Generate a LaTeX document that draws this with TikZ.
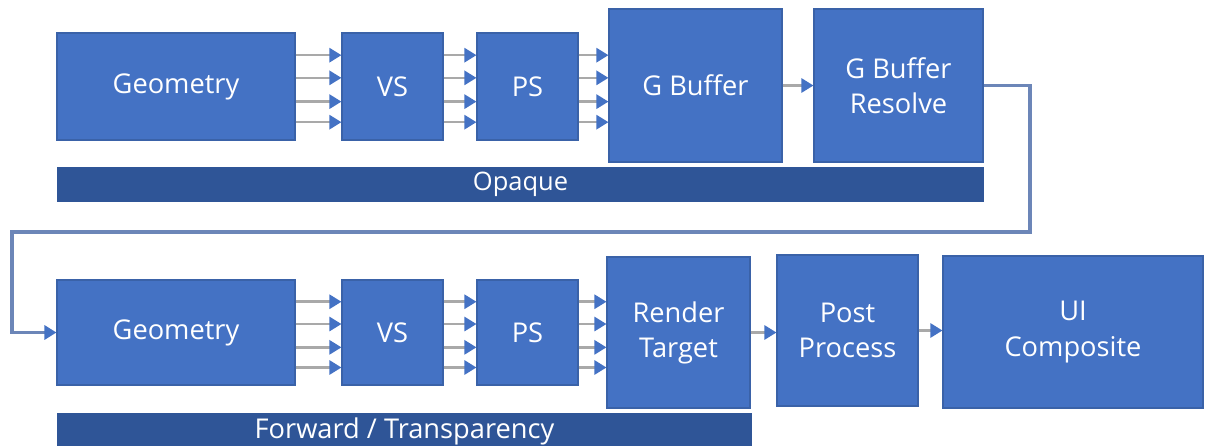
\documentclass[tikz,border=0pt]{standalone}
\usepackage{fontspec}
\setmainfont{Open Sans}
\usetikzlibrary{arrows.meta,calc}
\definecolor{boxblue}{HTML}{4472C4}
\definecolor{boxedge}{HTML}{3A62A8}
\definecolor{bardark}{HTML}{2F5597}
\definecolor{wire}{HTML}{A9A9A9}
\definecolor{loopline}{HTML}{6C86B8}
\begin{document}
\begin{tikzpicture}[
    stage/.style={draw=boxedge,line width=0.6pt,fill=boxblue,text=white,align=center,
        font=\fontsize{15.5}{20}\selectfont,inner sep=0pt},
    bar/.style={fill=bardark,text=white,font=\fontsize{14.5}{17}\selectfont,inner sep=0pt},
    feed/.style={draw=wire,line width=1.5pt,-{Triangle[length=0.24cm,width=0.28cm,color=boxblue]}},
    back/.style={draw=loopline,line width=2pt,-{Triangle[length=0.24cm,width=0.28cm,color=boxblue]}}]
            \useasboundingbox (0,0) rectangle (24.12,-8.92);
            \node[stage,minimum width=4.76cm,minimum height=2.14cm] at (3.52,-1.73) (geoa) {Geometry};
            \node[stage,minimum width=2.02cm,minimum height=2.14cm] at (7.85,-1.73) (vsa) {VS};
            \node[stage,minimum width=2.02cm,minimum height=2.14cm] at (10.55,-1.73) (psa) {PS};
            \node[stage,minimum width=3.46cm,minimum height=3.06cm] at (13.91,-1.71) (gbuf) {G Buffer};
            \node[stage,minimum width=3.38cm,minimum height=3.06cm] at (17.97,-1.71) (gres) {G Buffer\\Resolve};
            \node[bar,minimum width=18.54cm,minimum height=0.70cm] at (10.41,-3.69) (opaque) {Opaque};
            \node[stage,minimum width=4.76cm,minimum height=2.10cm] at (3.52,-6.65) (geob) {Geometry};
            \node[stage,minimum width=2.02cm,minimum height=2.10cm] at (7.85,-6.65) (vsb) {VS};
            \node[stage,minimum width=2.02cm,minimum height=2.10cm] at (10.55,-6.65) (psb) {PS};
            \node[stage,minimum width=2.86cm,minimum height=3.02cm] at (13.57,-6.65) (rt) {Render\\Target};
            \node[stage,minimum width=2.82cm,minimum height=3.02cm] at (16.95,-6.61) (pp) {Post\\Process};
            \node[stage,minimum width=5.20cm,minimum height=3.04cm] at (21.46,-6.64) (ui) {UI\\Composite};
            \node[bar,minimum width=13.90cm,minimum height=0.74cm,font=\fontsize{15.5}{18}\selectfont] at (8.09,-8.63) (fwd) {Forward / Transparency};
            \coordinate (loopr) at (20.60,-4.64);
            \coordinate (loopl) at (0.24,-4.64);
            \foreach \a/\b in {geoa/vsa,vsa/psa,psa/gbuf,geob/vsb,vsb/psb,psb/rt}
                \foreach \f in {0.21,0.42,0.64,0.83}
                    \draw[feed] ($(\a.north east)!\f!(\a.south east)$) coordinate (p) -- (p -| \b.west);
            \draw[feed] (gbuf) -- (gres);
            \draw[feed] (rt.east) -- (rt.east -| pp.west);
            \draw[feed] (pp.east) -- (pp.east -| ui.west);
            \draw[back] (gres.east) -| (loopr) -- (loopl) |- (geob.west);
        \end{tikzpicture}
\end{document}
